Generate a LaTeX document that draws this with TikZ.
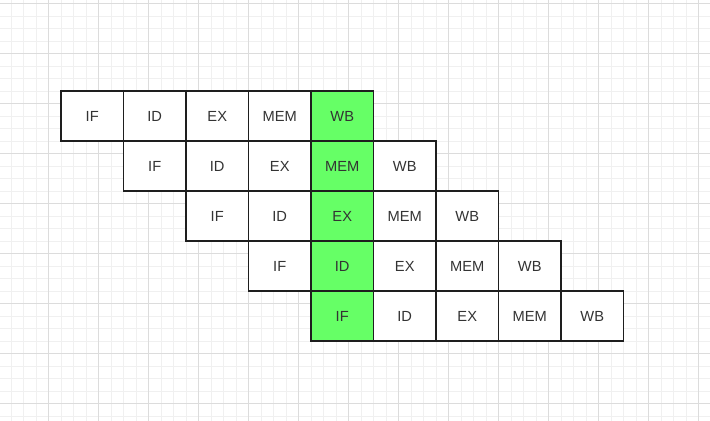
\documentclass[tikz,border=0pt]{standalone}
\usepackage{fontspec}
\setmainfont{Liberation Sans}
\usetikzlibrary{positioning}
\definecolor{gridminor}{RGB}{240,240,240}
\definecolor{gridmajor}{RGB}{220,220,220}
\definecolor{celledge}{RGB}{30,30,30}
\definecolor{celltext}{RGB}{51,51,51}
\definecolor{hazard}{RGB}{102,255,102}
\tikzstyle{cell} = [
rectangle, fill=white,
minimum width=46.875pt, minimum height=37.5pt, inner sep=0pt, outer sep=0pt,
text=celltext, font=\fontsize{11}{13}\selectfont
]
\tikzstyle{cell_S} = [cell, fill=hazard]
\tikzstyle{edge} = [draw=celledge, line width=1.1pt]
\tikzstyle{minorline} = [draw=gridminor, line width=0.6pt]
\tikzstyle{majorline} = [draw=gridmajor, line width=0.6pt]
\begin{document}
\begin{tikzpicture}[x=0.75pt, y=-0.75pt]
			\useasboundingbox (0,0) rectangle (710,421);
			% Grade de fundo
			\foreach \i in {-3,...,52} \draw[minorline] ({48.5+12.5*\i},0) -- ++(0,421);
			\foreach \j in {0,...,33} \draw[minorline] (0,{3.5+12.5*\j}) -- ++(710,0);
			\foreach \i in {0,...,13} \draw[majorline] ({48.5+50*\i},0) -- ++(0,421);
			\foreach \j in {0,...,8} \draw[majorline] (0,{3.5+50*\j}) -- ++(710,0);

			% Instrucao 1
			\node (r1_IF) [cell, anchor=north west] at (61,91) {IF};
			\node (r1_ID) [cell, right=0pt of r1_IF] {ID};
			\node (r1_EX) [cell, right=0pt of r1_ID] {EX};
			\node (r1_MEM) [cell, right=0pt of r1_EX] {MEM};
			\node (r1_WB) [cell_S, right=0pt of r1_MEM] {WB};

			% Instrucao 2
			\node (r2_IF) [cell, below right=0pt of r1_IF] {IF};
			\node (r2_ID) [cell, right=0pt of r2_IF] {ID};
			\node (r2_EX) [cell, right=0pt of r2_ID] {EX};
			\node (r2_MEM) [cell_S, right=0pt of r2_EX] {MEM};
			\node (r2_WB) [cell, right=0pt of r2_MEM] {WB};

			% Instrucao 3
			\node (r3_IF) [cell, below right=0pt of r2_IF] {IF};
			\node (r3_ID) [cell, right=0pt of r3_IF] {ID};
			\node (r3_EX) [cell_S, right=0pt of r3_ID] {EX};
			\node (r3_MEM) [cell, right=0pt of r3_EX] {MEM};
			\node (r3_WB) [cell, right=0pt of r3_MEM] {WB};

			% Instrucao 4
			\node (r4_IF) [cell, below right=0pt of r3_IF] {IF};
			\node (r4_ID) [cell_S, right=0pt of r4_IF] {ID};
			\node (r4_EX) [cell, right=0pt of r4_ID] {EX};
			\node (r4_MEM) [cell, right=0pt of r4_EX] {MEM};
			\node (r4_WB) [cell, right=0pt of r4_MEM] {WB};

			% Instrucao 5
			\node (r5_IF) [cell_S, below right=0pt of r4_IF] {IF};
			\node (r5_ID) [cell, right=0pt of r5_IF] {ID};
			\node (r5_EX) [cell, right=0pt of r5_ID] {EX};
			\node (r5_MEM) [cell, right=0pt of r5_EX] {MEM};
			\node (r5_WB) [cell, right=0pt of r5_MEM] {WB};

			% Bordas
			\foreach \r in {1,...,5}
				\foreach \s in {IF,ID,EX,MEM,WB}
					\draw[edge] (r\r_\s.north west) rectangle (r\r_\s.south east);

		\end{tikzpicture}
\end{document}
